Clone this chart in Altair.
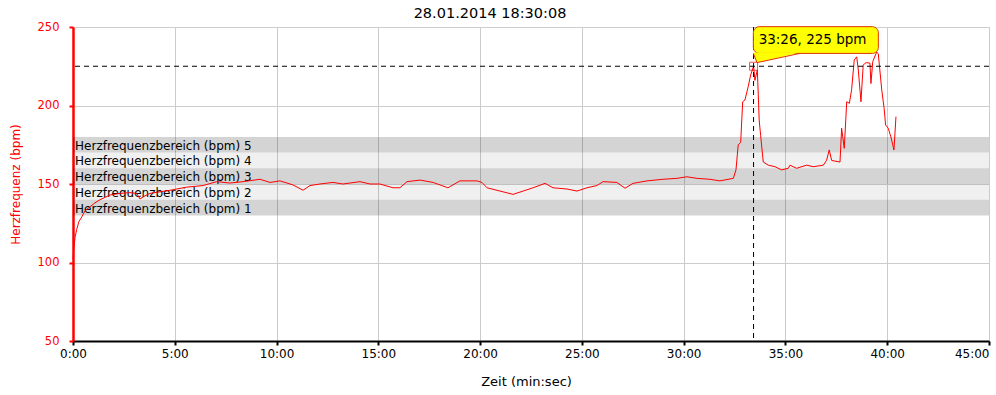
import altair as alt
import pandas as pd

# ---- data ----
t_min = [0.00, 0.05, 0.10, 0.18, 0.29, 0.43, 0.59, 0.84, 1.08, 1.33, 1.82, 2.31, 2.80, 3.13, 3.29,
         3.54, 3.78, 4.27, 4.77, 5.59, 6.39, 7.06, 7.71, 8.35, 9.19, 9.68, 10.17, 10.81, 11.30,
         11.64, 12.13, 12.77, 13.26, 14.10, 14.59, 15.08, 15.72, 16.06, 16.41, 17.05, 17.69,
         18.42, 19.01, 19.85, 20.09, 20.34, 20.98, 21.62, 22.11, 22.60, 23.19, 23.58, 24.27,
         24.76, 25.25, 25.74, 26.04, 26.72, 27.12, 27.51, 28.20, 28.98, 29.67, 30.16, 30.65,
         31.29, 31.78, 32.44, 32.57, 32.68, 32.80, 32.90, 33.01, 33.17, 33.29, 33.433, 33.50,
         33.62, 33.71, 33.78, 33.91, 34.16, 34.49, 34.81, 35.14, 35.22, 35.55, 36.04, 36.37,
         36.86, 37.02, 37.15, 37.27, 37.68, 37.76, 37.89, 38.01, 38.14, 38.25, 38.38, 38.50,
         38.58, 38.71, 38.82, 38.96, 39.15, 39.20, 39.29, 39.48, 39.56, 39.73, 39.85, 39.92,
         40.05, 40.18, 40.33, 40.43]
hr = [102, 110, 116, 121, 126, 129, 133, 135.5, 138, 140, 143, 144, 144.5, 144, 140.5,
      142.5, 144, 145, 146, 148, 149, 151.5, 150.6, 151.5, 153, 151, 152, 149.4, 146,
      149, 150, 151, 150, 151.5, 150, 150, 147.6, 147.6, 151.5, 152.5, 151,
      147.6, 152, 152, 151, 147.6, 145.5, 143.4, 145.5, 147.6, 150.4, 147.6, 146.8,
      145.5, 147.6, 149, 151.5, 151, 147.3, 150.4, 152, 153, 153.6, 154.6, 153.6,
      153, 152, 153.6, 159, 175, 176.4, 202.4, 203.5, 212, 219.4, 225, 216,
      222.6, 190.8, 181, 164, 162, 161, 159, 160, 162, 160, 162, 161,
      162, 165, 171.7, 165, 164, 185.5, 172.7, 202.4, 201.4, 210, 229, 231,
      222.6, 202.4, 225.8, 227.3, 227, 214, 228, 234, 233, 210, 198, 187.6,
      185.5, 180, 171.7, 192.9]

zone_names = ["Herzfrequenzbereich (bpm) 1", "Herzfrequenzbereich (bpm) 2",
              "Herzfrequenzbereich (bpm) 3", "Herzfrequenzbereich (bpm) 4",
              "Herzfrequenzbereich (bpm) 5"]
zone_low = [130, 140, 150, 160, 170]
zone_high = [140, 150, 160, 170, 180]
zone_kind = ["solid", "hatch", "solid", "hatch", "solid"]

x_ticks = [0, 5, 10, 15, 20, 25, 30, 35, 40, 45]
y_ticks = [50, 100, 150, 200, 250]

title_text = "28.01.2014 18:30:08"
peak_t = 33 + 26 / 60
peak_hr = 225
callout_text = "33:26, 225 bpm"

FONT = "DejaVu Sans"

hr_df = pd.DataFrame({"t": t_min, "hr": hr})
zones_df = pd.DataFrame({"name": zone_names, "lo": zone_low, "hi": zone_high,
                         "kind": zone_kind, "x0": 0, "x1": 45})
zones_df["mid"] = (zones_df["lo"] + zones_df["hi"]) / 2
zones_df["xl"] = 0.1

xscale = alt.Scale(domain=[0, 45], nice=False, zero=False)
yscale = alt.Scale(domain=[50, 250], nice=False, zero=False)

xaxis = alt.Axis(values=x_ticks, labelExpr="datum.value + ':00'", title="Zeit (min:sec)",
                 grid=True, gridColor="#cccccc", gridWidth=1,
                 domainColor="#000000", domainWidth=2, tickColor="#000000", tickWidth=2,
                 tickSize=4, labelColor="#000000", labelFont=FONT, labelFontSize=12,
                 labelAlign=alt.ExprRef("datum.value == 45 ? 'right' : 'center'"),
                 labelPadding=3, titleFont=FONT, titleFontSize=13, titleFontWeight="normal",
                 titleColor="#000000", titleX=453, titleY=40, titleBaseline="middle",
                 titleAnchor="start", titleAlign="center", labelFlush=False)
yaxis = alt.Axis(values=y_ticks, title="Herzfrequenz (bpm)", grid=True, gridColor="#cccccc",
                 gridWidth=1, domainColor="#ff0000", domainWidth=2.5, tickColor="#ff0000",
                 tickWidth=2, tickSize=4, labelColor="#ff0000", labelFont=FONT,
                 labelFontSize=11.5, labelPadding=10, titleFont=FONT, titleFontSize=12,
                 titleFontWeight="normal", titleColor="#ff0000", titleX=-58, titleY=157,
                 titleAngle=-90, titleBaseline="middle", titleAlign="center")

base_x = alt.X("x0:Q", scale=xscale, axis=xaxis)

bands = alt.Chart(zones_df).mark_rect().encode(
    x=base_x, x2="x1:Q",
    y=alt.Y("lo:Q", scale=yscale, axis=yaxis), y2="hi:Q",
    fill=alt.Fill("kind:N", scale=alt.Scale(domain=["solid", "hatch"],
                                            range=["#000000", "#000000"]), legend=None),
    opacity=alt.Opacity("kind:N", scale=alt.Scale(domain=["solid", "hatch"],
                                                  range=[0.17, 0.06]), legend=None),
)

band_labels = alt.Chart(zones_df).mark_text(align="left", baseline="middle", font=FONT,
                                            fontSize=12, color="#000000", dy=1).encode(
    x=alt.X("xl:Q", scale=xscale), y=alt.Y("mid:Q", scale=yscale), text="name:N")

line = alt.Chart(hr_df).mark_line(color="#ff0000", strokeWidth=1).encode(
    x=alt.X("t:Q", scale=xscale), y=alt.Y("hr:Q", scale=yscale))

peak_df = pd.DataFrame({"t": [peak_t], "hr": [peak_hr]})
hrule = alt.Chart(peak_df).mark_rule(color="#000000", strokeDash=[5, 4], strokeWidth=1).encode(
    y=alt.Y("hr:Q", scale=yscale))
vrule = alt.Chart(peak_df).mark_rule(color="#000000", strokeDash=[5, 4], strokeWidth=1).encode(
    x=alt.X("t:Q", scale=xscale))
marker = alt.Chart(peak_df).mark_square(filled=False, color="#ff0000", size=64,
                                        strokeWidth=1).encode(
    x=alt.X("t:Q", scale=xscale), y=alt.Y("hr:Q", scale=yscale))

# callout box placed relative to the peak
box_df = pd.DataFrame({"a": [peak_t - 0.01], "b": [peak_t + 6.13],
                       "lo": [peak_hr + 8.2], "hi": [peak_hr + 25.2]})
box = alt.Chart(box_df).mark_rect(fill="#ffff00", stroke="#dd3300", strokeWidth=1,
                                  cornerRadius=6).encode(
    x=alt.X("a:Q", scale=xscale), x2="b:Q", y=alt.Y("lo:Q", scale=yscale), y2="hi:Q")
ptr_df = pd.DataFrame({"t": [peak_t - 0.01, peak_t + 0.17, peak_t + 2.28],
                       "top": [peak_hr + 8.7, peak_hr + 8.7, peak_hr + 8.7],
                       "bot": [peak_hr + 8.7, peak_hr + 2.3, peak_hr + 8.7],
                       "edge": [peak_hr + 8.2, peak_hr + 2.3, peak_hr + 8.2]})
ptr_fill = alt.Chart(ptr_df).mark_area(color="#ffff00", opacity=1).encode(
    x=alt.X("t:Q", scale=xscale), y=alt.Y("top:Q", scale=yscale), y2="bot:Q")
ptr_edge = alt.Chart(ptr_df).mark_line(color="#dd3300", strokeWidth=1).encode(
    x=alt.X("t:Q", scale=xscale), y=alt.Y("edge:Q", scale=yscale))
txt_df = pd.DataFrame({"t": [peak_t + 0.25], "hr": [peak_hr + 16.7], "s": [callout_text]})
txt = alt.Chart(txt_df).mark_text(align="left", baseline="middle", font=FONT, fontSize=13.5,
                                  color="#000000").encode(
    x=alt.X("t:Q", scale=xscale), y=alt.Y("hr:Q", scale=yscale), text="s:N")

chart = alt.layer(bands, band_labels, line, hrule, vrule, marker, box, ptr_fill, ptr_edge,
                  txt).properties(
    width=916, height=314,
    title=alt.TitleParams(title_text, font=FONT, fontSize=14.5, fontWeight="normal",
                          color="#000000", anchor="middle", dx=-41, offset=0),
    autosize=alt.AutoSizeParams(type="none"),
    padding={"left": 73, "top": 27, "right": 7, "bottom": 54},
).configure_view(stroke=None).configure(background="#ffffff")

chart.save("out.html", embed_options={"renderer": "svg", "actions": False})
